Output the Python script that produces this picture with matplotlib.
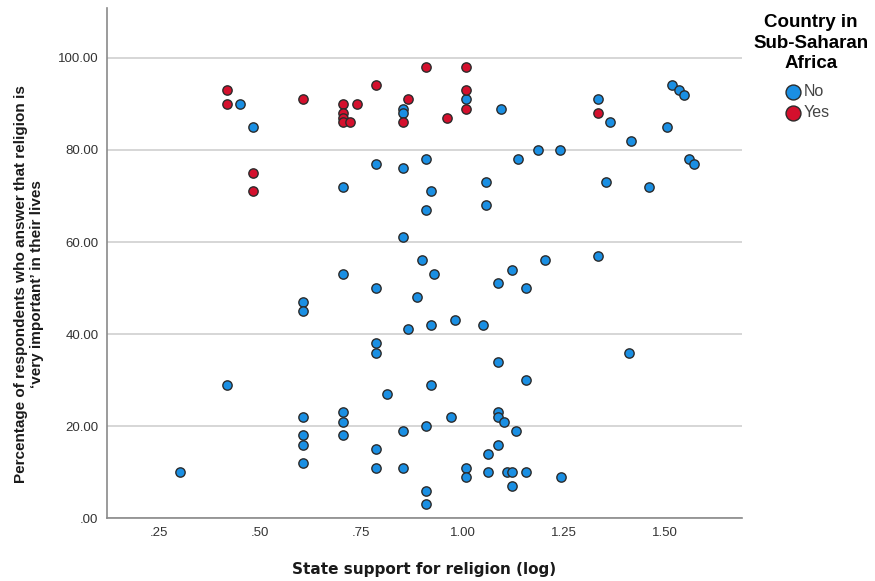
import numpy as np
import matplotlib.pyplot as plt

plt.rcParams['font.family'] = ['Liberation Sans', 'DejaVu Sans']

# countries outside Sub-Saharan Africa
no_x = [0.449, 0.481, 0.852, 0.852, 1.009, 0.705, 0.785, 0.852, 0.910, 0.921,
        0.910, 1.058, 1.058, 0.852, 0.900, 1.095, 1.136, 1.186, 1.241, 1.334,
        1.363, 1.417, 1.505, 1.518, 1.535, 1.546, 1.558, 1.571, 1.354, 1.460,
        1.204, 1.334, 1.123, 0.705, 0.930, 0.785, 0.888, 0.606, 0.606, 0.980,
        0.922, 1.050, 0.864, 0.785, 0.785, 0.418, 0.921, 0.813, 0.606, 0.705,
        0.705, 0.705, 0.972, 0.910, 0.852, 0.606, 0.606, 0.606, 0.785, 0.785,
        0.852, 1.008, 1.008, 1.063, 1.063, 0.303, 0.910, 0.910, 1.088, 1.157,
        1.411, 1.088, 1.157, 1.088, 1.088, 1.103, 1.131, 1.088, 1.109, 1.123,
        1.157, 1.123, 1.242]
no_y = [90, 85, 89, 88, 91, 72, 77, 76, 78, 71,
        67, 73, 68, 61, 56, 89, 78, 80, 80, 91,
        86, 82, 85, 94, 93, 92, 78, 77, 73, 72,
        56, 57, 54, 53, 53, 50, 48, 47, 45, 43,
        42, 42, 41, 38, 36, 29, 29, 27, 22, 23,
        21, 18, 22, 20, 19, 18, 16, 12, 15, 11,
        11, 11, 9, 14, 10, 10, 6, 3, 51, 50,
        36, 34, 30, 23, 22, 21, 19, 16, 10, 10,
        10, 7, 9]

# Sub-Saharan Africa
yes_x = [0.418, 0.418, 0.606, 0.705, 0.738, 0.705, 0.705, 0.705, 0.721, 0.785,
         0.852, 0.864, 0.910, 1.009, 1.009, 1.009, 0.962, 0.481, 0.481, 1.334]
yes_y = [93, 90, 91, 90, 90, 88, 87, 86, 86, 94,
         86, 91, 98, 98, 93, 89, 87, 75, 71, 88]

fig = plt.figure(figsize=(8.75, 5.81), dpi=100)
ax = fig.add_axes([0.122, 0.108, 0.726, 0.878])

ax.scatter(no_x, no_y, s=45, color='#1a8fe3', edgecolor='#2b2b2b', linewidth=1, label='No', zorder=3)
ax.scatter(yes_x, yes_y, s=45, color='#d4102d', edgecolor='#2b2b2b', linewidth=1, label='Yes', zorder=3)

ax.set_xlim(0.121, 1.69)
ax.set_ylim(0, 110.8)
ax.set_xticks([0.25, 0.5, 0.75, 1.0, 1.25, 1.5])
ax.set_xticklabels(['.25', '.50', '.75', '1.00', '1.25', '1.50'])
ax.set_yticks([0, 20, 40, 60, 80, 100])
ax.set_yticklabels(['.00', '20.00', '40.00', '60.00', '80.00', '100.00'])
ax.tick_params(length=0, labelsize=9.5, labelcolor='#333333', pad=6)

ax.grid(axis='y', color='#d3d3d3', linewidth=1.3)
ax.set_axisbelow(True)
for side in ['top', 'right']:
    ax.spines[side].set_visible(False)
for side in ['left', 'bottom']:
    ax.spines[side].set_color('#8a8a8a')
    ax.spines[side].set_linewidth(1.2)

ax.set_xlabel('State support for religion (log)', fontsize=11, fontweight='bold',
              family='DejaVu Sans', color='#1a1a1a', labelpad=17)
ax.set_ylabel('Percentage of respondents who answer that religion is\n\u2018very important\u2019 in their lives',
              fontsize=11, fontweight='bold', color='#1a1a1a')
ax.yaxis.set_label_coords(-0.099, 0.46)

# legend title drawn separately so the entries can sit where they do in the original
fig.text(0.927, 1 - 43 / 581, 'Country in\nSub-Saharan\nAfrica', ha='center', va='center',
         fontsize=13.5, fontweight='bold', linespacing=1.3, multialignment='center')
leg = ax.legend(loc='center left', bbox_to_anchor=(0.895, 1 - 102 / 581), bbox_transform=fig.transFigure,
                frameon=False, fontsize=11.5, handletextpad=0.1, handlelength=1.2,
                labelspacing=0.35, borderpad=0, borderaxespad=0, markerscale=1.6)
for t in leg.get_texts():
    t.set_color('#444444')

fig.savefig('out.png', dpi=100)
